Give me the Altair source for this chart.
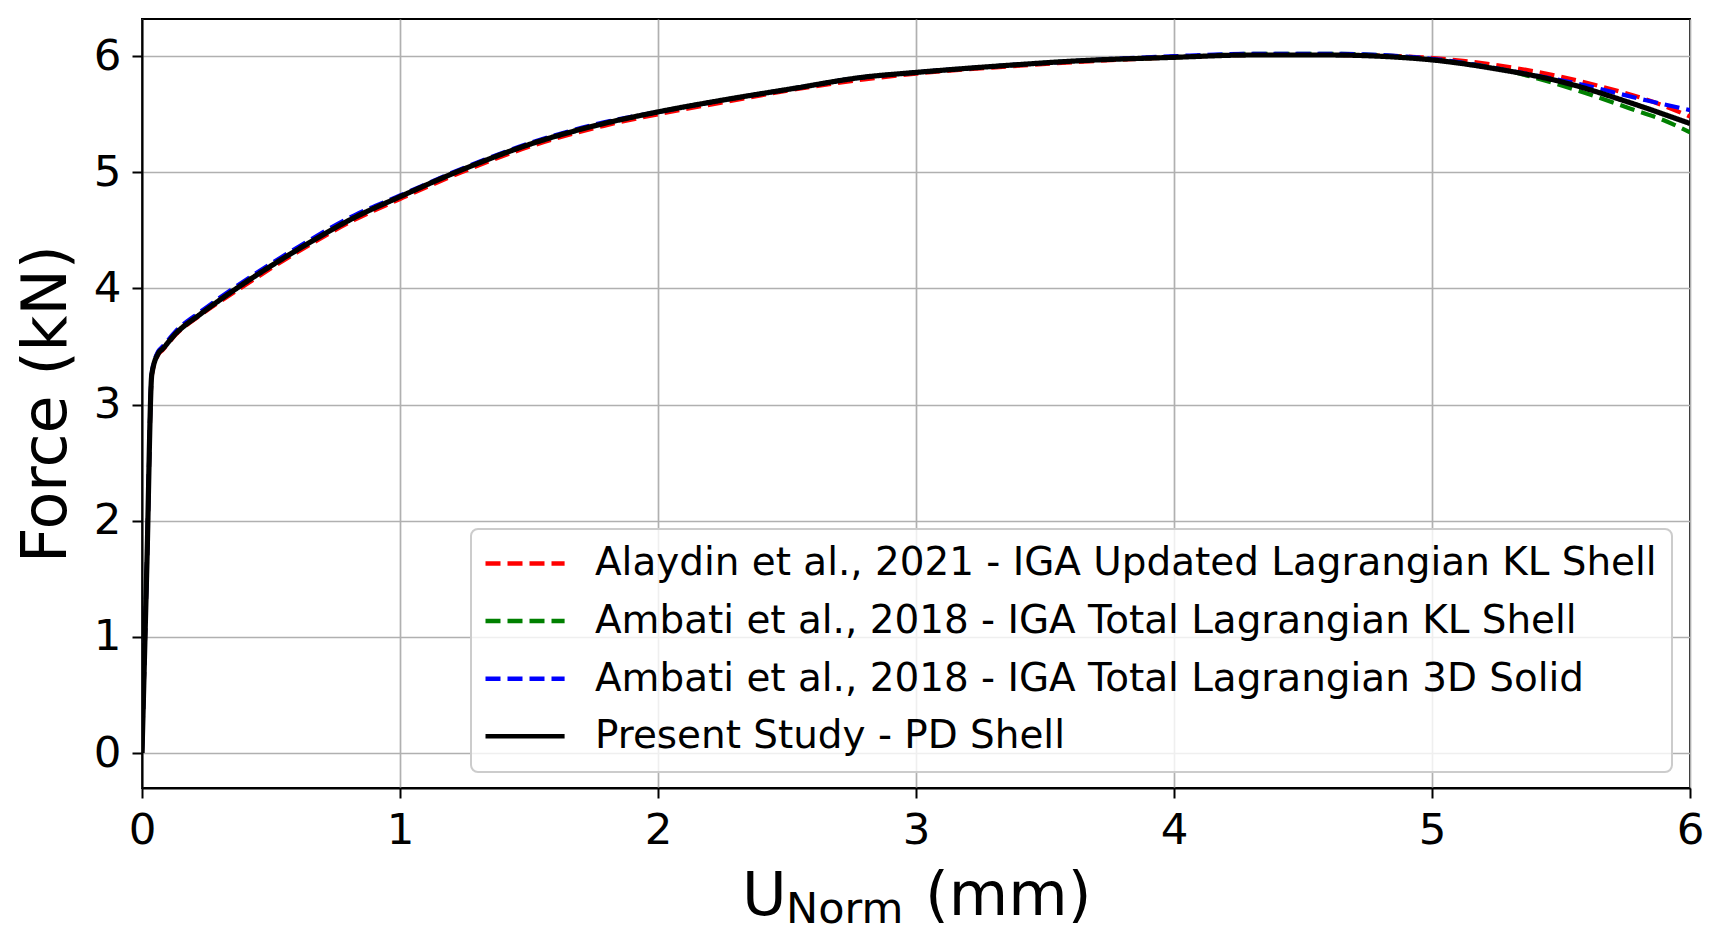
import altair as alt
import pandas as pd

# ---------------- data ----------------
SERIES = [
    "Alaydin et al., 2021 - IGA Updated Lagrangian KL Shell",
    "Ambati et al., 2018 - IGA Total Lagrangian KL Shell",
    "Ambati et al., 2018 - IGA Total Lagrangian 3D Solid",
    "Present Study - PD Shell",
]
COLORS = ["#ff0000", "#008000", "#0000ff", "#000000"]
DASHES = [[15, 7], [15, 7], [15, 7], [1, 0]]
WIDTHS = [4.2, 4.2, 4.2, 5.2]

alaydin_u = [0, 0.019, 0.038, 0.063, 0.08, 0.13, 0.227, 0.373, 0.60, 0.823, 1.0, 1.238, 1.515, 1.79, 2.0,
             2.246, 2.52, 2.80, 3.0, 3.35, 3.63, 4.0, 4.3, 4.6, 4.873, 5.12, 5.38, 5.637, 5.896, 6.0]
alaydin_f = [0, 1.62, 3.25, 3.43, 3.47, 3.60, 3.77, 3.99, 4.31, 4.59, 4.77, 5.00, 5.23, 5.40, 5.50,
             5.60, 5.71, 5.80, 5.85, 5.91, 5.95, 5.99, 6.01, 6.01, 6.00, 5.96, 5.876, 5.75, 5.575, 5.48]

ambati_kl_u = [0, 0.019, 0.038, 0.063, 0.08, 0.13, 0.227, 0.373, 0.60, 0.823, 1.0, 1.238, 1.515, 1.79, 2.0,
               2.246, 2.52, 2.80, 3.0, 3.35, 3.63, 4.0, 4.3, 4.6, 4.99, 5.25, 5.57, 5.767, 5.896, 6.0]
ambati_kl_f = [0, 1.63, 3.26, 3.45, 3.49, 3.62, 3.79, 4.02, 4.33, 4.61, 4.79, 5.02, 5.25, 5.42, 5.52,
               5.62, 5.72, 5.82, 5.86, 5.92, 5.96, 5.99, 6.02, 6.02, 5.975, 5.895, 5.70, 5.55, 5.45, 5.345]

ambati_3d_u = [0, 0.019, 0.038, 0.063, 0.08, 0.13, 0.227, 0.373, 0.60, 0.823, 1.0, 1.238, 1.515, 1.79, 2.0,
               2.246, 2.52, 2.80, 3.0, 3.35, 3.63, 4.0, 4.3, 4.6, 4.99, 5.31, 5.57, 5.83, 6.0]
ambati_3d_f = [0, 1.63, 3.27, 3.46, 3.50, 3.63, 3.80, 4.03, 4.35, 4.63, 4.80, 5.03, 5.26, 5.43, 5.52,
               5.62, 5.72, 5.82, 5.86, 5.92, 5.96, 6.00, 6.02, 6.02, 5.98, 5.87, 5.76, 5.62, 5.535]

present_u = [0, 0.019, 0.038, 0.063, 0.08, 0.13, 0.227, 0.373, 0.60, 0.823, 1.0, 1.238, 1.515, 1.79, 2.0,
             2.246, 2.52, 2.80, 3.0, 3.35, 3.63, 4.0, 4.3, 4.6, 4.873, 4.99, 5.25, 5.508, 5.767, 6.0]
present_f = [0, 1.63, 3.26, 3.44, 3.48, 3.61, 3.78, 4.01, 4.33, 4.61, 4.79, 5.02, 5.25, 5.42, 5.52,
             5.62, 5.72, 5.82, 5.86, 5.92, 5.96, 5.99, 6.01, 6.01, 5.99, 5.97, 5.89, 5.776, 5.60, 5.42]

X_TICKS = [0, 1, 2, 3, 4, 5, 6]
Y_TICKS = [0, 1, 2, 3, 4, 5, 6]

FONT = "DejaVu Sans"

frames = []
for name, us, fs in zip(SERIES,
                        [alaydin_u, ambati_kl_u, ambati_3d_u, present_u],
                        [alaydin_f, ambati_kl_f, ambati_3d_f, present_f]):
    frames.append(pd.DataFrame({"u": us, "f": fs, "series": name}))
df = pd.concat(frames, ignore_index=True)

# ---------------- encodings ----------------
x_enc = alt.X("u:Q",
              scale=alt.Scale(domain=[0, 6], nice=False, zero=False),
              axis=alt.Axis(values=X_TICKS, title=None, format="d", labelFlush=False))
y_enc = alt.Y("f:Q",
              scale=alt.Scale(domain=[-0.301, 6.32], nice=False, zero=False),
              axis=alt.Axis(values=Y_TICKS, title="Force (kN)", format="d", labelFlush=False,
                            titleX=-77, titleY=384.5, titleAngle=270,
                            titleBaseline="alphabetic", titleAlign="center",
                            titleFontSize=62, titleFontWeight="normal", titleFont=FONT,
                            titleColor="black"))

legend = alt.Legend(title=None, orient="none", legendX=329, legendY=510,
                    symbolType="M-1.995,0H5.915", symbolSize=400, symbolStrokeWidth=4.5,
                    labelFontSize=38.9, labelFont=FONT, labelColor="black", labelLimit=2000,
                    padding=15, rowPadding=17.6, labelOffset=70.1,
                    fillColor="rgba(255,255,255,0.8)", strokeColor="#cccccc", cornerRadius=7)

color_enc = alt.Color("series:N", scale=alt.Scale(domain=SERIES, range=COLORS), legend=legend)
dash_enc = alt.StrokeDash("series:N", scale=alt.Scale(domain=SERIES, range=DASHES), legend=legend)

base = alt.Chart(df)
layers = []
for name, w in zip(SERIES, WIDTHS):
    layers.append(
        base.transform_filter(alt.datum.series == name)
        .mark_line(strokeWidth=w, interpolate="monotone", clip=True)
        .encode(x=x_enc, y=y_enc, color=color_enc, strokeDash=dash_enc)
    )

# x-axis title with subscript: U_Norm (mm)
one = pd.DataFrame({"k": [0]})
t_u = alt.Chart(one).mark_text(text="U", font=FONT, fontSize=61, align="left",
                               baseline="alphabetic", color="black").encode(
    x=alt.value(600), y=alt.value(896))
t_norm = alt.Chart(one).mark_text(text="Norm", font=FONT, fontSize=43, align="left",
                                  baseline="alphabetic", color="black").encode(
    x=alt.value(644), y=alt.value(904))
t_mm = alt.Chart(one).mark_text(text="(mm)", font=FONT, fontSize=61, align="left",
                                baseline="alphabetic", color="black").encode(
    x=alt.value(783), y=alt.value(896))

chart = alt.layer(*layers, t_u, t_norm, t_mm).properties(
    width=1548, height=769,
    autosize=alt.AutoSizeParams(type="none"),
    padding={"left": 134, "top": 11, "right": 20, "bottom": 150},
).configure_view(
    stroke="black", strokeWidth=2
).configure_axis(
    labelFont=FONT, labelFontSize=43.5, labelColor="black",
    tickColor="black", tickSize=10, tickWidth=2,
    domainColor="black", domainWidth=2,
    gridColor="#b0b0b0", gridWidth=1.7,
    labelPadding=11, labelOverlap=False,
).configure_legend(
    strokeWidth=2,
)

chart.save("out.html", embed_options={"renderer": "svg", "actions": False})
